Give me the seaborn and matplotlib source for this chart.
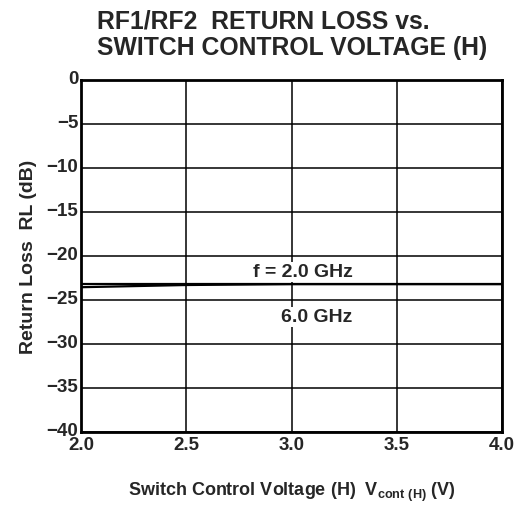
import matplotlib
matplotlib.use("Agg")
import matplotlib.pyplot as plt
import matplotlib.transforms as mtransforms
import pandas as pd
import seaborn as sns

# Return loss vs switch control voltage
voltage = [2.0, 2.5, 3.0, 3.5, 4.0]
rl_2ghz = [-23.2, -23.2, -23.2, -23.2, -23.2]
rl_6ghz = [-23.55, -23.3, -23.2, -23.2, -23.2]

x_ticks = [2.0, 2.5, 3.0, 3.5, 4.0]
x_labels = ["2.0", "2.5", "3.0", "3.5", "4.0"]
y_ticks = [0, -5, -10, -15, -20, -25, -30, -35, -40]
y_labels = ["0", "\u22125", "\u221210", "\u221215", "\u221220", "\u221225", "\u221230", "\u221235", "\u221240"]

df = pd.DataFrame({
    "voltage": voltage * 2,
    "rl": rl_2ghz + rl_6ghz,
    "freq": ["2.0 GHz"] * len(voltage) + ["6.0 GHz"] * len(voltage),
})

sns.set_theme(style="white")
plt.rcParams["font.family"] = ["Liberation Sans", "DejaVu Sans"]
plt.rcParams["mathtext.fontset"] = "custom"
plt.rcParams["mathtext.rm"] = "Liberation Sans:bold"

fig = plt.figure(figsize=(5.24, 5.06), dpi=100)
ax = fig.add_axes([0.1546, 0.1443, 0.8034, 0.6957])

sns.lineplot(data=df, x="voltage", y="rl", hue="freq", palette=["black", "black"],
             linewidth=1.6, legend=False, ax=ax)

ax.set_xlim(2.0, 4.0)
ax.set_ylim(-40, 0)
ax.set_xticks(x_ticks)
ax.set_xticklabels(x_labels, fontsize=13.5, fontweight="bold")
ax.set_yticks(y_ticks)
ax.set_yticklabels(y_labels, fontsize=13.5, fontweight="bold")
ax.tick_params(axis="x", length=0, pad=3)
ax.tick_params(axis="y", length=0, pad=2)
# y labels sit a little above their grid lines in the original
shift = mtransforms.ScaledTranslation(0, 3 / 100, fig.dpi_scale_trans)
for lab in ax.get_yticklabels():
    lab.set_transform(lab.get_transform() + shift)
ax.grid(True, color="black", linewidth=1.1)
for s in ax.spines.values():
    s.set_color("black")
    s.set_linewidth(2)

ax.set_xlabel(r"Switch Control Voltage (H)  V$_{\mathrm{cont\ (H)}}$ (V)",
              fontsize=13, fontweight="bold", labelpad=19)
ax.set_ylabel("Return Loss  RL (dB)", fontsize=14, fontweight="bold", labelpad=7)

ax.text(3.29, -21.8, "f = 2.0 GHz", ha="right", va="center", fontsize=14, fontweight="bold",
        bbox=dict(facecolor="white", edgecolor="none", pad=1))
ax.text(3.29, -26.9, "6.0 GHz", ha="right", va="center", fontsize=14, fontweight="bold",
        bbox=dict(facecolor="white", edgecolor="none", pad=1))

fig.text(0.185, 0.982, "RF1/RF2  RETURN LOSS vs.", fontsize=17.8, fontweight="bold", va="top", ha="left")
fig.text(0.185, 0.928, "SWITCH CONTROL VOLTAGE (H)", fontsize=17.8, fontweight="bold", va="top", ha="left")

fig.savefig("out.png", dpi=100)
